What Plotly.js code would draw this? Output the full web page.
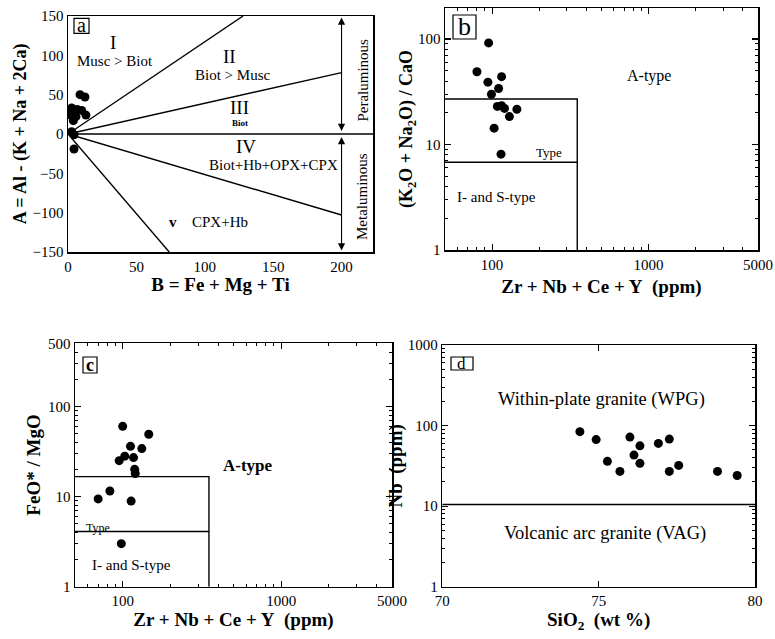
<!DOCTYPE html>
<html><head><meta charset="utf-8">
<script src="https://cdn.plot.ly/plotly-3.0.1.min.js"></script>
<style>html,body{margin:0;padding:0;background:#fff}</style>
</head><body><div id="chart" style="width:775px;height:639px"></div>
<script>
// ---------- Panel a : A-B diagram ----------
const aB = [8.8, 12.4, 2.7, 6.8, 10.0, 2.0, 5.8, 13.1, 3.9, 2.7, 4.4, 4.4, 1.5];
const aA = [50, 47, 33, 31, 30, 24, 22, 24, 17, 3, -1, -19, 28];
// boundary rays from origin (end points B, A)
const aRayB = [128, 200, 223, 200, 74];
const aRayA = [150, 78, 0, -103, -150];
const aXTicks = [0, 50, 100, 150, 200];
const aYTicks = [-150, -100, -50, 0, 50, 100, 150];

// ---------- Panel b : (K2O+Na2O)/CaO vs Zr+Nb+Ce+Y ----------
const bX = [95, 80, 115, 94, 110, 99, 108, 115, 120, 144, 129, 103, 114];
const bY = [92, 49, 44, 39, 34, 30, 23, 23.3, 22, 21.6, 18.4, 14.3, 8.1];
const bUpper = 27;   // FG upper boundary
const bLower = 6.8;  // OGT boundary
const zrLimit = 350; // A-type boundary (ppm)

// ---------- Panel c : FeO*/MgO vs Zr+Nb+Ce+Y ----------
const cX = [100, 146, 112, 132, 95, 103, 117, 119, 120, 70, 83, 113, 98];
const cY = [60, 49, 36, 34, 25, 28, 27, 20, 18, 9.4, 11.5, 8.9, 3.0];
const cUpper = 16.6;
const cLower = 4.1;

// ---------- Panel d : Nb vs SiO2 ----------
const dX = [74.40, 74.92, 76.00, 76.32, 76.91, 77.26, 75.28, 76.13, 76.32, 75.68, 77.26, 77.56, 78.80, 79.43];
const dY = [84, 67, 72, 56, 60, 68, 36, 43, 34, 27, 27, 32, 27, 24];
const dBoundary = 10.5;

const zrTicks = [100, 1000, 5000];
const zrMinor = [60,70,80,90,200,300,400,500,600,700,800,900,2000,3000,4000];

const serif = 'Liberation Serif, Times New Roman, serif';
const black = '#000';
const L10 = Math.log10;

function minorLog(lo, hi) {
  const v = [];
  for (let e = -1; e <= 4; e++) for (let m = 2; m <= 9; m++) {
    const t = m * Math.pow(10, e);
    if (t > lo && t < hi) v.push(t);
  }
  return v;
}

const dot = {color: black, size: 9};
const ln = {color: black, width: 1.4};

const traces = [
  // panel a
  ...aRayB.map((b, i) => ({type:'scatter', mode:'lines', x:[0, b], y:[0, aRayA[i]], line:ln, xaxis:'x', yaxis:'y', hoverinfo:'skip'})),
  {type:'scatter', mode:'markers', x:aB, y:aA, marker:dot, xaxis:'x', yaxis:'y'},
  // panel b
  {type:'scatter', mode:'lines', x:[50, zrLimit, zrLimit], y:[bUpper, bUpper, 1], line:ln, xaxis:'x2', yaxis:'y2', hoverinfo:'skip'},
  {type:'scatter', mode:'lines', x:[50, zrLimit], y:[bLower, bLower], line:ln, xaxis:'x2', yaxis:'y2', hoverinfo:'skip'},
  {type:'scatter', mode:'markers', x:bX, y:bY, marker:dot, xaxis:'x2', yaxis:'y2'},
  // panel c
  {type:'scatter', mode:'lines', x:[50, zrLimit, zrLimit], y:[cUpper, cUpper, 1], line:ln, xaxis:'x3', yaxis:'y3', hoverinfo:'skip'},
  {type:'scatter', mode:'lines', x:[50, zrLimit], y:[cLower, cLower], line:ln, xaxis:'x3', yaxis:'y3', hoverinfo:'skip'},
  {type:'scatter', mode:'markers', x:cX, y:cY, marker:dot, xaxis:'x3', yaxis:'y3'},
  // panel d
  {type:'scatter', mode:'lines', x:[70, 80], y:[dBoundary, dBoundary], line:ln, xaxis:'x4', yaxis:'y4', hoverinfo:'skip'},
  {type:'scatter', mode:'markers', x:dX, y:dY, marker:dot, xaxis:'x4', yaxis:'y4'}
];

const W = 775, H = 639;
const px = v => v / W, py = v => 1 - v / H;

const base = {
  showline:true, mirror:'ticks', linecolor:black, linewidth:1.5,
  showgrid:false, zeroline:false, ticks:'inside', tickcolor:black, tickwidth:1.2, ticklen:6,
  tickfont:{family:serif, size:15, color:black}, fixedrange:true
};
const ttl = (t, s, so) => ({text:'<b>' + t + '</b>', standoff:so, font:{family:serif, size:s || 18, color:black}});
const minorLogAxis = vals => ({tickvals:vals, ticks:'inside', ticklen:3, tickcolor:black, tickwidth:1});

const layout = {
  width:W, height:H, margin:{l:0, r:0, t:0, b:0},
  paper_bgcolor:'#fff', plot_bgcolor:'#fff', showlegend:false,
  font:{family:serif, color:black},
  xaxis: Object.assign({}, base, {domain:[px(68), px(373)], anchor:'y', range:[0, 223], tickvals:aXTicks, ticks:'',
          title:ttl('B = Fe + Mg + Ti', 19, 0)}),
  yaxis: Object.assign({}, base, {domain:[py(252), py(16)], anchor:'x', range:[-150, 150], tickvals:aYTicks, ticks:'',
          title:ttl('A = Al - (K + Na + 2Ca)', 18, 1)}),
  xaxis2: Object.assign({}, base, {domain:[px(445), px(758)], anchor:'y2', type:'log', range:[L10(50), L10(5000)],
          tickvals:zrTicks, ticktext:['100','1000','5000'], minor:minorLogAxis(zrMinor),
          title:ttl('Zr + Nb + Ce + Y\u00a0 (ppm)', 19, 8)}),
  yaxis2: Object.assign({}, base, {domain:[py(250), py(8)], anchor:'x2', type:'log', range:[0, L10(197)],
          tickvals:[1,10,100], ticktext:['1','10','100'], minor:minorLogAxis(minorLog(1,197)),
          title:ttl('(K<sub>2</sub>O + Na<sub>2</sub>O) / CaO', 18, 0)}),
  xaxis3: Object.assign({}, base, {domain:[px(75), px(392)], anchor:'y3', type:'log', range:[L10(50), L10(5000)],
          tickvals:zrTicks, ticktext:['100','1000','5000'], minor:minorLogAxis(zrMinor),
          title:ttl('Zr + Nb + Ce + Y\u00a0 (ppm)', 19, 2)}),
  yaxis3: Object.assign({}, base, {domain:[py(586.7), py(343.3)], anchor:'x3', type:'log', range:[0, L10(500)],
          tickvals:[1,10,100,500], ticktext:['1','10','100','500'], minor:minorLogAxis(minorLog(1,500)),
          title:ttl('FeO* / MgO', 19, 2)}),
  xaxis4: Object.assign({}, base, {domain:[px(442.3), px(755)], anchor:'y4', range:[70, 80],
          tickvals:[70,75,80], title:ttl('SiO<sub>2</sub>\u00a0 (wt %)', 19, 0)}),
  yaxis4: Object.assign({}, base, {domain:[py(586.7), py(345)], anchor:'x4', type:'log', range:[0, 3],
          tickvals:[1,10,100,1000], ticktext:['1','10','100','1000'], minor:minorLogAxis(minorLog(1,1000)),
          title:ttl('Nb\u00a0 (ppm)', 19, 0)}),
  shapes: [
    {type:'rect', xref:'paper', yref:'paper', x0:px(74), x1:px(89), y0:py(33.3), y1:py(18.3), line:{color:black, width:1.2}},
    {type:'rect', xref:'paper', yref:'paper', x0:px(453), x1:px(476), y0:py(39), y1:py(15), line:{color:black, width:1.2}},
    {type:'rect', xref:'paper', yref:'paper', x0:px(83), x1:px(97), y0:py(373), y1:py(357), line:{color:black, width:1.2}},
    {type:'rect', xref:'paper', yref:'paper', x0:px(451), x1:px(473), y0:py(370), y1:py(357), line:{color:black, width:1.2}}
  ],
  annotations: []
};

const A = layout.annotations;
function txt(xref, yref, x, y, text, size, extra) {
  A.push(Object.assign({xref, yref, x, y, text, showarrow:false, xanchor:'center', yanchor:'middle',
    font:{family:serif, size:size, color:black}}, extra || {}));
}
// panel letters
txt('paper','paper', px(81.5), py(25), 'a', 20);
txt('paper','paper', px(464.5), py(26), 'b', 26);
txt('paper','paper', px(90), py(365), '<b>c</b>', 18);
txt('paper','paper', px(462), py(363.5), 'd', 17);

// panel a labels
txt('x','y', 33, 116, 'I', 19);
txt('x','y', 34, 93, 'Musc > Biot', 15);
txt('x','y', 118, 98, 'II', 19);
txt('x','y', 120, 75, 'Biot > Musc', 15);
txt('x','y', 125.5, 34, 'III', 19);
txt('x','y', 125.5, 14, '<b>Biot</b>', 9);
txt('x','y', 130, -16, 'IV', 19);
txt('x','y', 150, -39, 'Biot+Hb+OPX+CPX', 15);
txt('x','y', 76.5, -112, '<b>v</b>', 15);
txt('x','y', 111, -112, 'CPX+Hb', 15);
txt('x','y', 215, 68, 'Peraluminous', 15, {textangle:-90});
txt('x','y', 215, -80, 'Metaluminous', 15, {textangle:-90});
// arrows
A.push({xref:'x', yref:'y', axref:'x', ayref:'y', x:200, y:148, ax:200, ay:2, text:'', showarrow:true,
        arrowhead:2, startarrowhead:2, arrowside:'end+start', arrowsize:1.3, startarrowsize:1.3, arrowwidth:1.1, arrowcolor:black});
A.push({xref:'x', yref:'y', axref:'x', ayref:'y', x:200, y:-148, ax:200, ay:-2, text:'', showarrow:true,
        arrowhead:2, startarrowhead:2, arrowside:'end+start', arrowsize:1.3, startarrowsize:1.3, arrowwidth:1.1, arrowcolor:black});

// panel b labels
txt('x2','y2', L10(1000), L10(45), 'A-type', 16);
txt('x2','y2', L10(232), L10(8.4), 'Type', 13);
txt('x2','y2', L10(107), L10(3.2), 'I- and S-type', 15);

// panel c labels
txt('x3','y3', L10(620), L10(22), '<b>A-type</b>', 17);
txt('x3','y3', L10(70), L10(4.45), 'Type', 12);
txt('x3','y3', L10(114), L10(1.75), 'I- and S-type', 15);

// panel d labels
txt('x4','y4', 75.1, L10(208), 'Within-plate granite (WPG)', 18.5);
txt('x4','y4', 75.2, L10(4.6), 'Volcanic arc granite (VAG)', 18.5);

Plotly.newPlot('chart', traces, layout, {staticPlot:true, displayModeBar:false});
</script>
</body></html>
